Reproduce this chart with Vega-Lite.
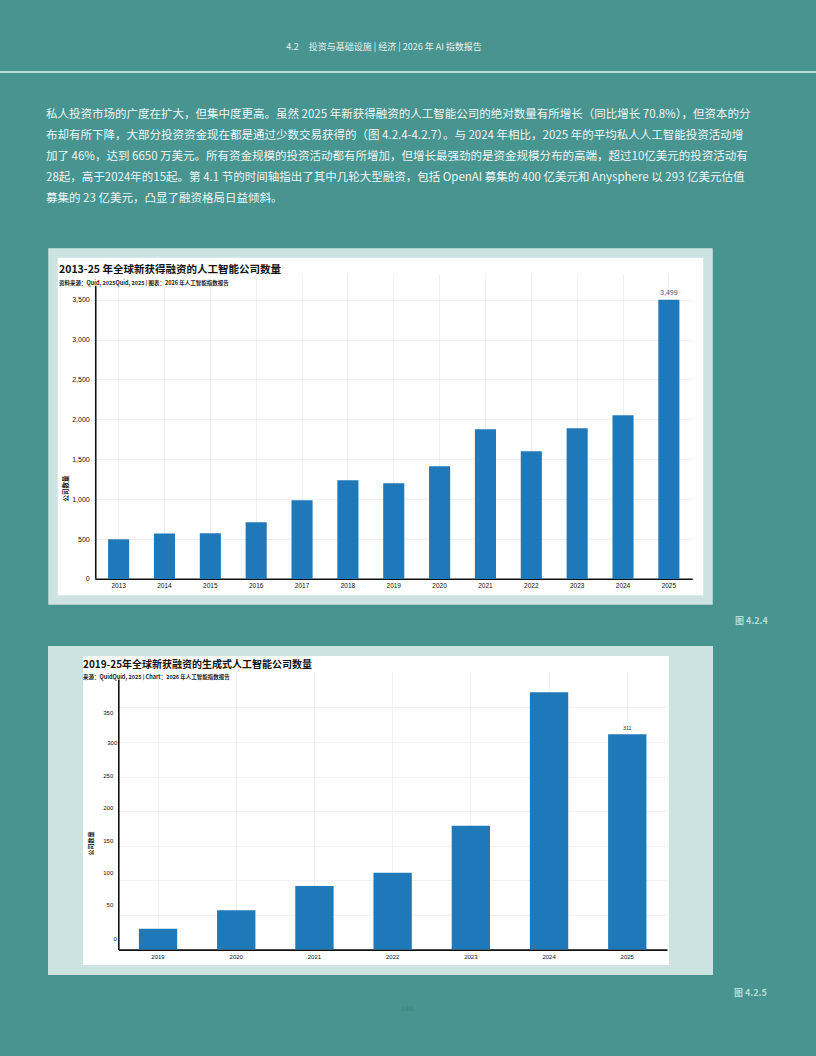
{
  "$schema": "https://vega.github.io/schema/vega-lite/v6.json",
  "background": "#489490",
  "padding": {"left": 0, "top": 43, "right": 0, "bottom": 48},
  "spacing": 20,
  "config": {
    "view": {"stroke": null},
    "font": "Noto Sans CJK SC",
    "title": {"font": "Noto Sans CJK SC", "subtitleFont": "Noto Sans CJK SC"},
    "axis": {"labelFont": "Liberation Sans", "titleFont": "Noto Sans CJK SC"},
    "text": {"font": "Liberation Sans"}
  },
  "title": {
    "text": "180",
    "orient": "bottom",
    "anchor": "middle",
    "frame": "bounds",
    "dx": -1,
    "offset": 2,
    "fontSize": 7.5,
    "font": "Liberation Sans",
    "fontWeight": "bold",
    "color": "#3d8b82"
  },
  "vconcat": [
    {
      "spacing": 35,
      "vconcat": [
        {
          "width": 816,
          "height": 2,
          "data": {"values": []},
          "mark": "point",
          "view": {"fill": "#b7e0dc", "stroke": null},
          "title": {
            "text": "4.2\u00a0\u00a0\u00a0\u00a0\u00a0投资与基础设施 | 经济 | 2026 年 AI 指数报告",
            "anchor": "middle",
            "frame": "group",
            "dx": -24,
            "offset": 19,
            "fontSize": 9,
            "fontWeight": "normal",
            "color": "#e4f2f0"
          }
        },
        {
          "spacing": 0,
          "title": {
            "text": [
              "私人投资市场的广度在扩大，但集中度更高。虽然 2025 年新获得融资的人工智能公司的绝对数量有所增长（同比增长 70.8%），但资本的分",
              "布却有所下降，大部分投资资金现在都是通过少数交易获得的（图 4.2.4-4.2.7）。与 2024 年相比，2025 年的平均私人人工智能投资活动增",
              "加了 46%，达到 6650 万美元。所有资金规模的投资活动都有所增加，但增长最强劲的是资金规模分布的高端，超过10亿美元的投资活动有",
              "28起，高于2024年的15起。第 4.1 节的时间轴指出了其中几轮大型融资，包括 OpenAI 募集的 400 亿美元和 Anysphere 以 293 亿美元估值",
              "募集的 23 亿美元，凸显了融资格局日益倾斜。"
            ],
            "anchor": "start",
            "frame": "group",
            "dx": 46,
            "offset": 44,
            "fontSize": 11.5,
            "lineHeight": 21,
            "fontWeight": "normal",
            "color": "#eef6f5"
          },
          "hconcat": [
            {"width": 48, "height": 357, "data": {"values": []}, "mark": "point"},
            {
              "width": 655,
              "height": 347,
              "view": {"fill": "white", "stroke": "#cde3e2", "strokeWidth": 9.5},
              "title": {
                "text": "2013-25 年全球新获得融资的人工智能公司数量",
                "subtitle": "资料来源：Quid, 2025Quid, 2025 | 图表：2026 年人工智能指数报告",
                "anchor": "start",
                "frame": "group",
                "dx": 6,
                "offset": -33,
                "fontSize": 10.5,
                "fontWeight": "bold",
                "color": "#111111",
                "subtitleFontSize": 5.5,
                "subtitleFontWeight": "bold",
                "subtitleColor": "#222222",
                "subtitlePadding": 5
              },
              "data": {
                "values": [
                  {"year": "2013", "count": 497},
                  {"year": "2014", "count": 569},
                  {"year": "2015", "count": 572},
                  {"year": "2016", "count": 710},
                  {"year": "2017", "count": 986},
                  {"year": "2018", "count": 1236},
                  {"year": "2019", "count": 1199},
                  {"year": "2020", "count": 1412},
                  {"year": "2021", "count": 1876},
                  {"year": "2022", "count": 1600},
                  {"year": "2023", "count": 1888},
                  {"year": "2024", "count": 2051},
                  {"year": "2025", "count": 3499}
                ]
              },
              "encoding": {
                "x": {
                  "field": "year",
                  "type": "ordinal",
                  "scale": {"range": [42.25, 639.25], "paddingInner": 0.54, "paddingOuter": 0.28},
                  "axis": {
                    "title": null,
                    "offset": -21.3,
                    "labelAngle": 0,
                    "labelFontSize": 6.5,
                    "labelColor": "#111111",
                    "labelPadding": 4,
                    "ticks": false,
                    "tickSize": 0,
                    "domainColor": "#111111",
                    "domainWidth": 1.6,
                    "grid": true,
                    "gridColor": "#ececec",
                    "gridWidth": 0.8,
                    "bandPosition": 0.5
                  }
                },
                "y": {
                  "field": "count",
                  "type": "quantitative",
                  "scale": {"domain": [0, 3680], "range": [325.95, 32.25], "nice": false},
                  "axis": {
                    "title": "公司数量",
                    "offset": -42.25,
                    "values": [0, 500, 1000, 1500, 2000, 2500, 3000, 3500],
                    "format": ",.0f",
                    "labelFontSize": 7,
                    "labelColor": "#111111",
                    "labelPadding": 6,
                    "ticks": false,
                    "tickSize": 0,
                    "domainColor": "#111111",
                    "domainWidth": 1.6,
                    "grid": true,
                    "gridColor": "#ececec",
                    "gridWidth": 0.8,
                    "titleFontSize": 6.5,
                    "titleFontWeight": "bold",
                    "titleColor": "#111111",
                    "titleX": -30,
                    "titleY": 235,
                    "titleBaseline": "middle"
                  }
                }
              },
              "layer": [
                {"mark": {"type": "bar", "color": "#1f78b8"}},
                {
                  "transform": [{"filter": "datum.year == '2025'"}],
                  "mark": {"type": "text", "dy": -7, "fontSize": 7, "color": "#2f5c87"},
                  "encoding": {"text": {"field": "count", "type": "quantitative", "format": ",.0f"}}
                }
              ]
            },
            {
              "width": 103,
              "height": 357,
              "data": {"values": []},
              "mark": "point",
              "title": {
                "text": "图 4.2.4",
                "orient": "bottom",
                "anchor": "start",
                "frame": "group",
                "dx": 22,
                "offset": 7,
                "fontSize": 9,
                "fontWeight": "bold",
                "color": "#b0ddd8"
              }
            }
          ]
        }
      ]
    },
    {
      "spacing": 0,
      "hconcat": [
        {"width": 48, "height": 319, "data": {"values": []}, "mark": "point"},
        {"width": 15, "height": 319, "data": {"values": []}, "mark": "point", "view": {"fill": "#cde3e2", "stroke": "#cde3e2", "strokeWidth": 10}},
        {
          "width": 596,
          "height": 319,
          "view": {"fill": "white", "stroke": "#cde3e2", "strokeWidth": 10},
          "title": {
            "text": "2019-25年全球新获融资的生成式人工智能公司数量",
            "subtitle": "来源：QuidQuid, 2025 | Chart：2026 年人工智能指数报告",
            "anchor": "start",
            "frame": "group",
            "dx": 5,
            "offset": -29.5,
            "fontSize": 10,
            "fontWeight": "bold",
            "color": "#111111",
            "subtitleFontSize": 5.5,
            "subtitleFontWeight": "bold",
            "subtitleColor": "#222222",
            "subtitlePadding": 5
          },
          "data": {
            "values": [
              {"year": "2019", "count": 30},
              {"year": "2020", "count": 57},
              {"year": "2021", "count": 92},
              {"year": "2022", "count": 111},
              {"year": "2023", "count": 179},
              {"year": "2024", "count": 372},
              {"year": "2025", "count": 311}
            ]
          },
          "encoding": {
            "x": {
              "field": "year",
              "type": "ordinal",
              "scale": {"range": [40.3, 589], "paddingInner": 0.51, "paddingOuter": 0.263},
              "axis": {
                "title": null,
                "offset": -20.4,
                "labelAngle": 0,
                "labelFontSize": 6,
                "labelColor": "#111111",
                "labelPadding": 4,
                "ticks": false,
                "tickSize": 0,
                "domainColor": "#111111",
                "domainWidth": 1.6,
                "grid": true,
                "gridColor": "#efefef",
                "gridWidth": 0.8,
                "bandPosition": 0.5
              }
            },
            "y": {
              "field": "count",
              "type": "quantitative",
              "scale": {"domain": [0, 391], "range": [298.6, 28], "nice": false},
              "axis": {
                "title": "公司数量",
                "offset": -40.3,
                "values": [0, 50, 100, 150, 200, 250, 300, 350],
                "labelFontSize": 6,
                "labelColor": "#111111",
                "labelPadding": {
                  "condition": [
                    {"test": "datum.value == 300", "value": 1.5},
                    {"test": "datum.value == 0", "value": 2}
                  ],
                  "value": 5.5
                },
                "labelOffset": {
                  "condition": [
                    {"test": "datum.value == 350", "value": 5.5},
                    {"test": "datum.value == 300", "value": 0.7},
                    {"test": "datum.value == 250", "value": -0.6},
                    {"test": "datum.value == 200", "value": -3.5},
                    {"test": "datum.value == 150", "value": -5},
                    {"test": "datum.value == 100", "value": -7.7},
                    {"test": "datum.value == 50", "value": -10},
                    {"test": "datum.value == 0", "value": -11.3}
                  ],
                  "value": 0
                },
                "ticks": false,
                "tickSize": 0,
                "domainColor": "#111111",
                "domainWidth": 1.6,
                "grid": true,
                "gridColor": "#efefef",
                "gridWidth": 0.8,
                "titleFontSize": 6,
                "titleFontWeight": "bold",
                "titleColor": "#111111",
                "titleX": -28.3,
                "titleY": 192,
                "titleBaseline": "middle"
              }
            }
          },
          "layer": [
            {"mark": {"type": "bar", "color": "#1f78b8"}},
            {
              "transform": [{"filter": "datum.year == '2025'"}],
              "mark": {"type": "text", "dy": -6.5, "fontSize": 5.5, "color": "#333333"},
              "encoding": {"text": {"field": "count", "type": "quantitative"}}
            }
          ]
        },
        {
          "width": 24,
          "height": 319,
          "data": {"values": []},
          "mark": "point",
          "view": {"fill": "#cde3e2", "stroke": "#cde3e2", "strokeWidth": 10},
          "title": {
            "text": "图 4.2.5",
            "orient": "bottom",
            "anchor": "start",
            "frame": "group",
            "dx": 50,
            "offset": 19,
            "fontSize": 9,
            "fontWeight": "bold",
            "color": "#b0ddd8"
          }
        }
      ]
    }
  ]
}
